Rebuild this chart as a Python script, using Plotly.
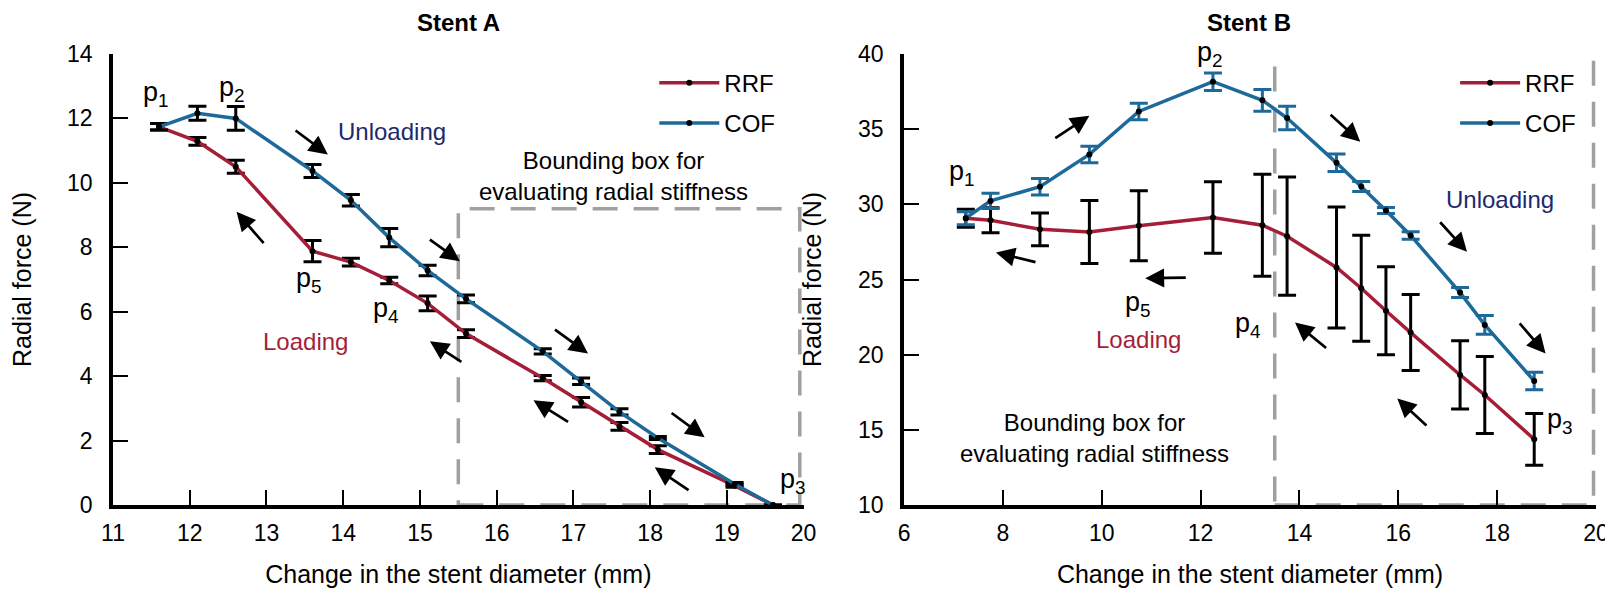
"""Radial force curves of two stents (loading / unloading) with error bars."""

from plotly.graph_objects import Scatter, Figure

# Stent A
xa = [11.6, 12.1, 12.6, 13.6, 14.1, 14.6, 15.1, 15.6, 16.6, 17.1, 17.6, 18.1, 19.1, 19.6]
a_rrf = [11.74, 11.29, 10.5, 7.88, 7.54, 6.97, 6.26, 5.32, 3.94, 3.19, 2.44, 1.72, 0.6, 0.0]
a_rrf_err = [0.1, 0.12, 0.2, 0.33, 0.12, 0.1, 0.23, 0.12, 0.08, 0.15, 0.12, 0.12, 0.05, 0.0]
a_cof = [11.74, 12.16, 12.0, 10.37, 9.46, 8.3, 7.28, 6.4, 4.77, 3.84, 2.89, 2.08, 0.65, 0.0]
a_cof_err = [0.1, 0.22, 0.37, 0.2, 0.18, 0.28, 0.16, 0.12, 0.08, 0.1, 0.1, 0.05, 0.05, 0.0]

# Stent B
xb = [7.25, 7.75, 8.75, 9.75, 10.75, 12.25, 13.25, 13.75, 14.75, 15.25, 15.75, 16.25, 17.25, 17.75, 18.75]
b_rrf = [29.08, 28.94, 28.34, 28.16, 28.58, 29.12, 28.61, 27.88, 25.8, 24.42, 22.92, 21.47, 18.65, 17.32, 14.37]
b_rrf_err = [0.6, 0.83, 1.09, 2.09, 2.33, 2.38, 3.39, 3.93, 4.02, 3.53, 2.93, 2.53, 2.27, 2.56, 1.72]
b_cof = [29.08, 30.23, 31.17, 33.32, 36.18, 38.16, 36.92, 35.74, 32.76, 31.19, 29.59, 27.93, 24.13, 21.98, 18.25]
b_cof_err = [0.43, 0.5, 0.55, 0.55, 0.55, 0.58, 0.72, 0.78, 0.58, 0.33, 0.2, 0.25, 0.33, 0.63, 0.58]

RED = "#A51E38"
BLUE = "#1D6A9A"
NAVY = "#1B2A6B"
GREY = "#A0A0A0"
FONT = "Liberation Sans, Arial, sans-serif"

# labels: (text, x, y, color, size)
labels_a = [
    ("p<sub>1</sub>", 11.56, 12.75, "black", 27),
    ("p<sub>2</sub>", 12.55, 12.92, "black", 27),
    ("p<sub>5</sub>", 13.55, 6.97, "black", 27),
    ("p<sub>4</sub>", 14.56, 6.05, "black", 27),
    ("p<sub>3</sub>", 19.86, 0.75, "black", 27),
    ("Unloading", 14.64, 11.6, NAVY, 24),
    ("Loading", 13.51, 5.07, RED, 24),
    ("Bounding box for<br>evaluating radial stiffness", 17.52, 10.2, "black", 24),
]
labels_b = [
    ("p<sub>1</sub>", 7.18, 32.1, "black", 27),
    ("p<sub>2</sub>", 12.19, 40.0, "black", 27),
    ("p<sub>5</sub>", 10.73, 23.35, "black", 27),
    ("p<sub>4</sub>", 12.95, 21.98, "black", 27),
    ("p<sub>3</sub>", 19.27, 15.6, "black", 27),
    ("Unloading", 18.05, 30.35, NAVY, 24),
    ("Loading", 10.75, 20.98, RED, 24),
    ("Bounding box for<br>evaluating radial stiffness", 9.85, 14.47, "black", 24),
]

# arrows: head x, head y, tail x, tail y
arrows_a = [
    (13.8, 10.88, 13.36, 11.66), (12.61, 9.1, 12.98, 8.08),
    (15.52, 7.57, 15.11, 8.27), (15.13, 5.08, 15.56, 4.41),
    (17.19, 4.7, 16.74, 5.48), (16.48, 3.25, 16.95, 2.55),
    (18.71, 2.1, 18.26, 2.89), (18.06, 1.17, 18.52, 0.43),
]
arrows_b = [
    (9.75, 35.89, 9.03, 34.34), (7.86, 26.79, 8.69, 26.13),
    (10.88, 25.08, 11.73, 25.13), (15.23, 34.17, 14.6, 36.05),
    (17.39, 26.84, 16.82, 28.91), (18.98, 20.07, 18.43, 22.18),
    (13.91, 22.14, 14.57, 20.36), (15.98, 17.08, 16.6, 15.19),
]


def curve(x, y, err, name, color, bar_color, axes, legend):
    """Une courbe avec barres d'erreur."""
    return Scatter(
        x=x, y=y, name=name, mode="lines+markers",
        line=dict(color=color, width=3.5),
        marker=dict(color="black", size=6),
        error_y=dict(type="data", array=err, color=bar_color, thickness=3, width=9),
        xaxis=axes[0], yaxis=axes[1], legend=legend, legendgroup=legend + name,
    )


def axis(domain, rng, dtick, title, anchor, standoff, labgap):
    return dict(
        domain=domain, range=rng, dtick=dtick, anchor=anchor,
        showgrid=False, zeroline=False, showline=True, linecolor="black", linewidth=3.5,
        ticks="inside", ticklen=15, tickwidth=2, tickcolor="black", ticklabelstandoff=labgap,
        tickfont=dict(size=23, color="black", family=FONT),
        title=dict(text=title, font=dict(size=25, color="black", family=FONT), standoff=standoff),
    )


def notes(labels, arrows, xref, yref):
    out = []
    for text, x, y, color, size in labels:
        out.append(dict(text=text, x=x, y=y, xref=xref, yref=yref, showarrow=False,
                        font=dict(size=size, color=color, family=FONT)))
    for hx, hy, tx, ty in arrows:
        out.append(dict(text="", x=hx, y=hy, ax=tx, ay=ty, xref=xref, yref=yref,
                        axref=xref, ayref=yref, showarrow=True, arrowhead=2,
                        arrowsize=1.4, arrowwidth=2.7, arrowcolor="black"))
    return out


def main():
    fig = Figure()
    fig.add_trace(curve(xa, a_rrf, a_rrf_err, "RRF", RED, "black", ("x", "y"), "legend"))
    fig.add_trace(curve(xa, a_cof, a_cof_err, "COF", BLUE, "black", ("x", "y"), "legend"))
    fig.add_trace(curve(xb, b_rrf, b_rrf_err, "RRF", RED, "black", ("x2", "y2"), "legend2"))
    fig.add_trace(curve(xb, b_cof, b_cof_err, "COF", BLUE, BLUE, ("x2", "y2"), "legend2"))

    ann = notes(labels_a, arrows_a, "x", "y") + notes(labels_b, arrows_b, "x2", "y2")
    for text, x in (("<b>Stent A</b>", 0.2328), ("<b>Stent B</b>", 0.766)):
        ann.append(dict(text=text, x=x, y=1.07, xref="paper", yref="paper",
                        xanchor="center", yanchor="middle", showarrow=False,
                        font=dict(size=24, color="black", family=FONT)))

    dash = dict(color=GREY, width=3.5, dash="25px,16px")
    shapes = [
        dict(type="rect", xref="x", yref="y", x0=15.5, x1=19.95, y0=0, y1=9.2, line=dash, layer="below"),
        dict(type="rect", xref="x2", yref="y2", x0=13.5, x1=19.95, y0=10, y1=40.2, line=dash, layer="below"),
    ]

    leg = dict(bgcolor="rgba(0,0,0,0)", font=dict(size=24, color="black", family=FONT),
               itemwidth=60, tracegroupgap=6, yanchor="top", xanchor="left")

    fig.update_layout(
        width=1613, height=599, paper_bgcolor="white", plot_bgcolor="white",
        margin=dict(l=97, r=15, t=46, b=102),
        xaxis=axis([0, 0.4657], [11, 20], 1, "Change in the stent diameter (mm)", "y", 21, 5),
        yaxis=axis([0, 1], [0, 14], 2, "Radial force (N)", "x", 30, 12),
        xaxis2=axis([0.5334, 1.0], [6, 20], 2, "Change in the stent diameter (mm)", "y2", 21, 5),
        yaxis2=axis([0, 1], [10, 40], 5, "Radial force (N)", "x2", 30, 12),
        legend=dict(leg, x=0.365, y=0.985),
        legend2=dict(leg, x=0.905, y=0.985),
        annotations=ann, shapes=shapes,
    )
    fig.write_html("out.html")


if __name__ == "__main__":
    main()
